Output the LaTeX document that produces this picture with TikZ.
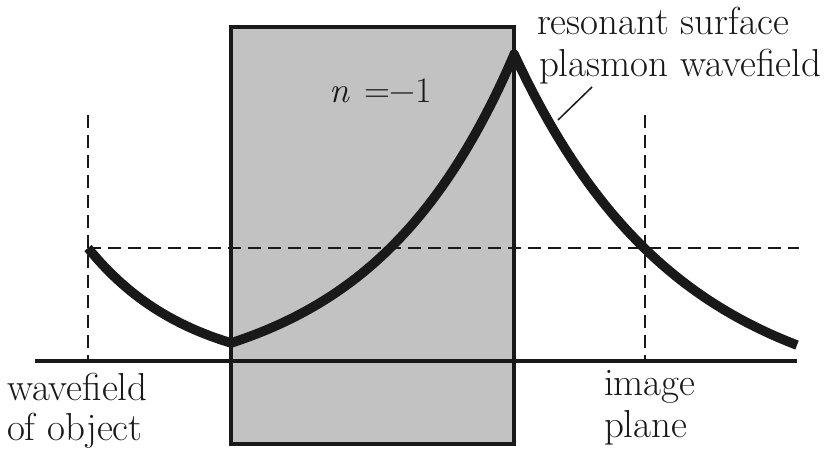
\documentclass[tikz,border=0pt]{standalone}
\usepackage{fontspec}
\begin{document}
\begin{tikzpicture}[x=1pt,y=-1pt]
\definecolor{lensgray}{gray}{0.76}
\definecolor{ink}{gray}{0.1}
\tikzset{
  lensbox/.style={draw=ink, fill=lensgray, line width=4pt, minimum width=283pt, minimum height=417pt, inner sep=0pt, outer sep=0pt},
  axisline/.style={draw=ink, line width=4pt},
  guide/.style={draw=ink, line width=1.5pt, dash pattern=on 13pt off 7pt},
  wave/.style={draw=ink, line width=9.5pt, line join=round, line cap=butt},
  leader/.style={draw=ink, line width=1.5pt},
  lbl/.style={anchor=base west, inner sep=0pt, outer sep=0pt, text=ink, font=\fontsize{39}{44}\selectfont}
}
\useasboundingbox (0,0) rectangle (824,449);
\fill[white] (0,0) rectangle (824,449);
% lens
\node[lensbox] (lens) at (372.5,235.5) {};
% axis
\coordinate (axL) at (35,361);
\coordinate (axR) at (797,361);
\draw[axisline] (axL) -- (axR);
% guides
\coordinate (objTop) at (88,115);
\coordinate (objBot) at (88,361);
\coordinate (imgTop) at (645,115);
\coordinate (imgBot) at (645,361);
\coordinate (hL) at (88,248);
\coordinate (hR) at (799,248);
\draw[guide] (objTop) -- (objBot);
\draw[guide] (imgTop) -- (imgBot);
\draw[guide] (hL) -- (hR);
% wavefield
\draw[wave] plot[domain=88:231, samples=50] (\x, {361-(-13+126*exp(-0.0098*(\x-88)))})
  -- plot[domain=231:514, samples=80] (\x, {361-(-29+47*exp(0.00695*(\x-231)))})
  -- plot[domain=514:797, samples=80] (\x, {361-(-47+354*exp(-0.0061*(\x-514)))});
% labels
\node[lbl, font=\fontsize{36}{44}\selectfont] (nlab) at (329,103) {\textit{n}\hspace{0.4em}=−1};
\node[lbl] (res1) at (537,35) {resonant surface};
\node[lbl] (res2) at (539,77) {plasmon wavefield};
\node[lbl] (obj1) at (7,400) {wavefield};
\node[lbl] (obj2) at (7,440) {of object};
\node[lbl] (img1) at (604,395) {image};
\node[lbl] (img2) at (604,437) {plane};
\coordinate (la) at (592,87);
\coordinate (lb) at (558,120);
\draw[leader] (la) -- (lb);
\end{tikzpicture}
\end{document}
